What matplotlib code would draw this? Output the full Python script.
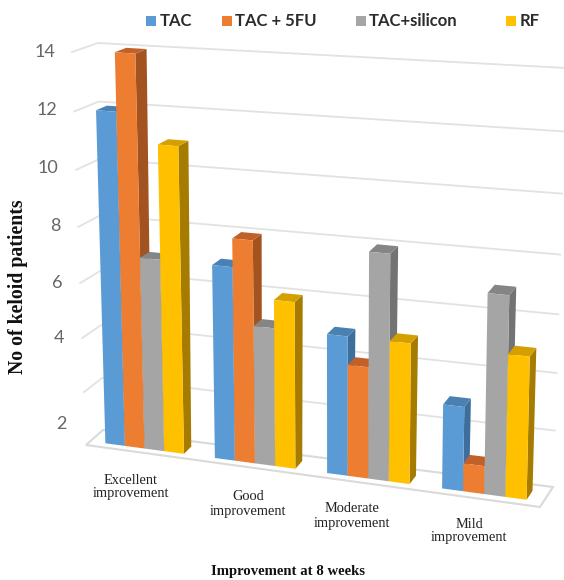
import numpy as np
import matplotlib
matplotlib.use("Agg")
import matplotlib.pyplot as plt
from matplotlib.patches import Polygon, Rectangle

# Data
categories = ["Excellent\nimprovement", "Good\nimprovement", "Moderate\nimprovement", "Mild\nimprovement"]
series_names = ["TAC", "TAC + 5FU", "TAC+silicon", "RF"]
tac = [12, 7, 5, 3]
tac_5fu = [14, 8, 4, 1]
tac_silicon = [7, 5, 8, 7]
rf = [11, 6, 5, 5]
grid_values = [0, 2, 4, 6, 8, 10, 12, 14]
tick_labels = ["14", "12", "10", "8", "6", "4", "2"]

series = [tac, tac_5fu, tac_silicon, rf]
front_colors = ["#5B9BD5", "#ED7D31", "#A5A5A5", "#FFC000"]
side_colors = ["#3E6F9C", "#A3531F", "#737373", "#A67C00"]
top_colors = ["#4A80B2", "#C2602A", "#858585", "#D4A000"]

# Corners of the 3D box in image pixels: (u, value) at the front and back planes
VMAX = 14.0
front = {"bl": (86, 445), "br": (540, 507), "tl": (72, 52), "tr": (549, 87)}
back = {"bl": (103, 430), "br": (553, 487), "tl": (98, 43), "tr": (566, 68)}
K = 1.05
KV = 1.07


def plane(c, t, v):
    b = (1 - t) * np.array(c["bl"]) + t * np.array(c["br"])
    a = (1 - t) * np.array(c["tl"]) + t * np.array(c["tr"])
    x = v / VMAX
    return b + (a - b) * x / (KV - (KV - 1) * x)


def project(u, v, d):
    # u: 0-1 across the categories, v: value, d: 0 front to 1 back
    t = u / (K - (K - 1) * u)
    return (1 - d) * plane(front, t, v) + d * plane(back, t, v)


fig = plt.figure(figsize=(5.64, 5.80), dpi=100)
ax = fig.add_axes([0, 0, 1, 1])
ax.set_xlim(0, 564)
ax.set_ylim(580, 0)
ax.axis("off")

# Walls and gridlines
grid_color = "#E2E2E2"
for val in grid_values[1:]:
    pts = [project(0, val, 0), project(0, val, 1), project(1, val, 1)]
    ax.plot([p[0] for p in pts], [p[1] for p in pts], color=grid_color, lw=1.3, zorder=1)

# Floor
floor = [project(0, 0, 0), project(0, 0, 1), project(1, 0, 1), project(1, 0, 0)]
ax.add_patch(Polygon(floor, closed=True, fc="white", ec="#DADADA", lw=1.5, zorder=1))

# Bars, drawn left to right so the next bar hides the side of the previous one
n_groups = len(categories)
n_series = len(series)
group_width = 0.72
d0, d1 = 0.25, 0.7
z = 2
for i in range(n_groups):
    for j in range(n_series):
        val = series[j][i]
        left = (i + (1 - group_width) / 2 + group_width * j / n_series) / n_groups
        right = left + group_width / n_series / n_groups
        ax.add_patch(Polygon([project(right, 0, d0), project(right, 0, d1),
                              project(right, val, d1), project(right, val, d0)],
                             closed=True, fc=side_colors[j], ec="none", zorder=z))
        ax.add_patch(Polygon([project(left, val, d0), project(left, val, d1),
                              project(right, val, d1), project(right, val, d0)],
                             closed=True, fc=top_colors[j], ec="none", zorder=z))
        ax.add_patch(Polygon([project(left, 0, d0), project(right, 0, d0),
                              project(right, val, d0), project(left, val, d0)],
                             closed=True, fc=front_colors[j], ec="none", zorder=z))
        z += 1

# Tick labels (the 2 sits lower than its gridline in the original)
tick_y = [52, 110, 168, 226, 283, 338, 424]
for lab, y in zip(tick_labels, tick_y):
    x = 55 + (y - 52) * 0.032
    ax.text(x, y, lab, ha="right", va="center", color="#666666", fontsize=13, family="Lato")

# Category labels
cat_x = [131, 248, 352, 469]
cat_y = [487, 504, 516, 531]
for lab, x, y in zip(categories, cat_x, cat_y):
    ax.text(x, y, lab, ha="center", va="center", fontsize=10.4, color="#222222",
            family="Liberation Serif", linespacing=1.1, zorder=30)

# Legend
leg_box = [146, 222, 356, 506]
leg_text = [160, 235, 369, 520]
for name, color, bx, tx in zip(series_names, front_colors, leg_box, leg_text):
    ax.add_patch(Rectangle((bx, 16), 10, 10, fc=color, ec="none"))
    ax.text(tx, 21, name, ha="left", va="center", fontsize=12, fontweight="bold",
            color="#2B2B2B", family="Lato")

# Axis titles
ax.text(18, 287, "No of keloid patients", rotation=90, ha="center", va="center",
        fontsize=14.3, fontweight="bold", family="Liberation Serif", color="#111111")
ax.text(288, 572, "Improvement at 8 weeks", ha="center", va="center",
        fontsize=10.6, fontweight="bold", family="Liberation Serif", color="#111111")

fig.savefig("out.png", dpi=100)
